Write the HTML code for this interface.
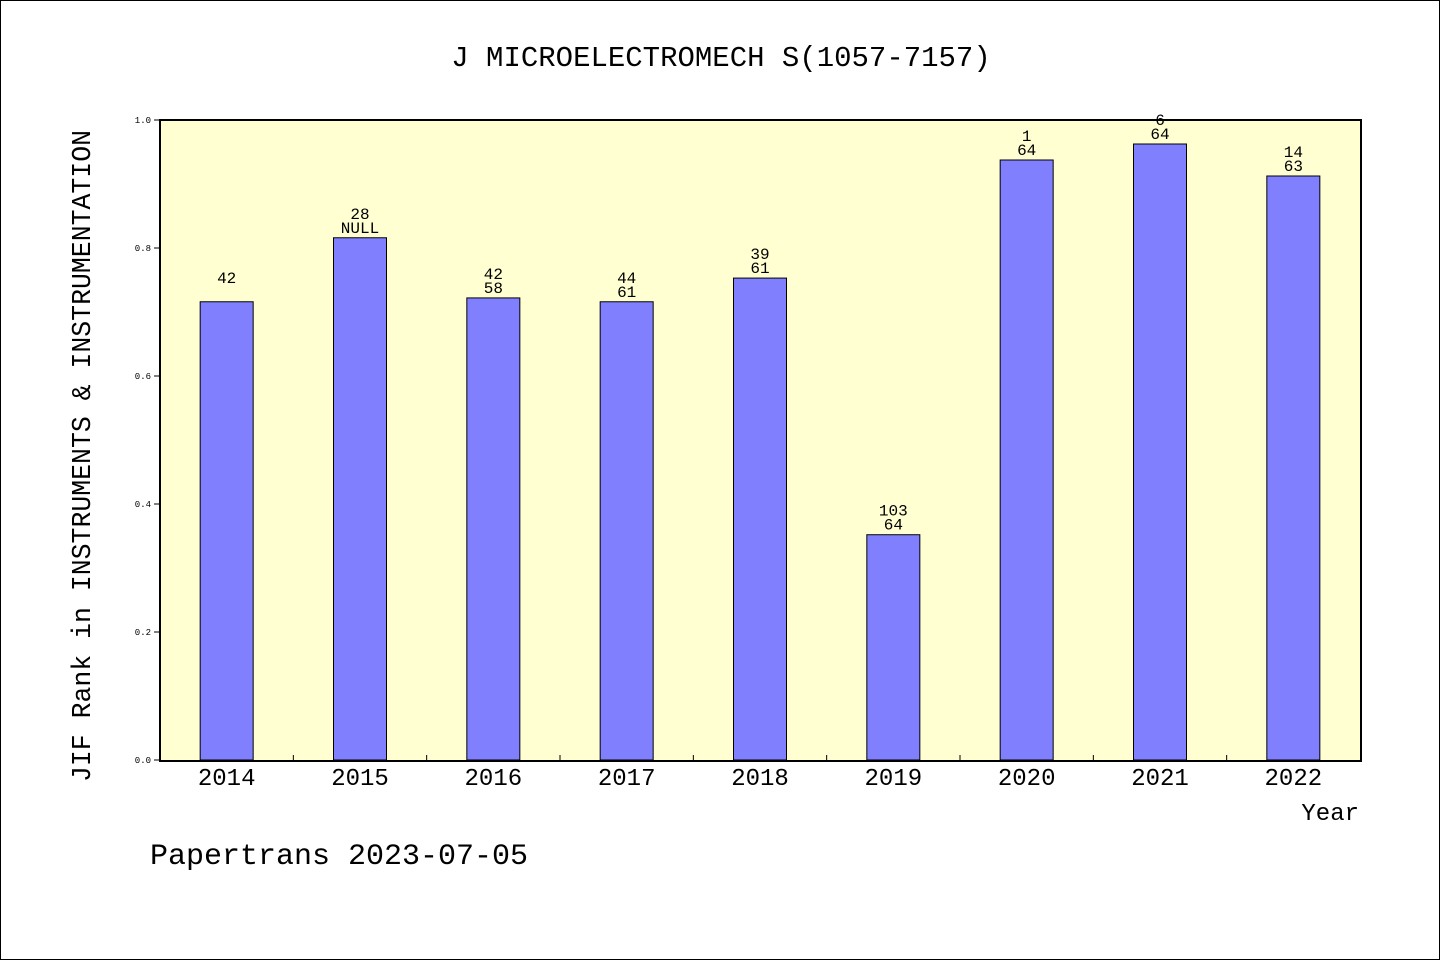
<!DOCTYPE html>
<html><head><meta charset="utf-8"><style>
body{margin:0;background:#fff}
svg{display:block}
text{font-family:"Liberation Mono","DejaVu Sans Mono",monospace;fill:#000}
</style></head><body>
<svg id="chart" width="1440" height="960" xmlns="http://www.w3.org/2000/svg">
<rect x="0.5" y="0.5" width="1439" height="959" fill="#fff" stroke="#000"/>
<text x="721" y="66" font-size="29" text-anchor="middle">J MICROELECTROMECH S(1057-7157)</text>
<rect x="160" y="120" width="1201" height="641" fill="#ffffd2"/>
<g id="bars"></g>
<g id="axes"></g>
<rect x="160" y="120" width="1201" height="641" fill="none" stroke="#000" stroke-width="2"/>
<text transform="translate(90,456) rotate(-90)" font-size="26.5" text-anchor="middle">JIF Rank in INSTRUMENTS &amp; INSTRUMENTATION</text>
<text x="1359" y="820" font-size="24" text-anchor="end">Year</text>
<text x="150" y="864" font-size="30">Papertrans 2023-07-05</text>
</svg>
<script>
const categories=["2014","2015","2016","2017","2018","2019","2020","2021","2022"];
const values=[0.716,0.816,0.722,0.716,0.753,0.352,0.9375,0.9625,0.9125];
const rankLabels=["42","28","42","44","39","103","1","6","14"];
const totalLabels=["","NULL","58","61","61","64","64","64","63"];
const yTicks=[0,0.2,0.4,0.6,0.8,1.0];
const NS="http://www.w3.org/2000/svg";
const X0=160,W=1200,Y0=760,H=640;
const band=W/categories.length;
const xc=i=>X0+band*(i+0.5);
const y=v=>Y0-v*H;
const bars=document.getElementById('bars'),axes=document.getElementById('axes');
function mk(tag,attrs,parent){const e=document.createElementNS(NS,tag);for(const k in attrs)e.setAttribute(k,attrs[k]);parent.appendChild(e);return e;}
categories.forEach((c,i)=>{
  const r=mk('rect',{x:xc(i)-26.5,y:y(values[i]),width:53,height:Y0-y(values[i]),fill:'#8080ff',stroke:'#000','stroke-width':1},bars);
  
  
  const t1=mk('text',{x:xc(i),y:y(values[i])-19,'font-size':16,'text-anchor':'middle'},bars);
  t1.textContent=rankLabels[i];
  
  
  const t2=mk('text',{x:xc(i),y:y(values[i])-5,'font-size':16,'text-anchor':'middle'},bars);
  t2.textContent=totalLabels[i];
  
  
  const xl=mk('text',{x:xc(i),y:785,'font-size':24,'text-anchor':'middle'},axes);
  xl.textContent=c;
  
  
  if(i>0){const tk=mk('line',{x1:X0+band*i,x2:X0+band*i,y1:Y0,y2:Y0-5,stroke:'#000'},axes);
  
  }
});
yTicks.forEach(v=>{
  const tk=mk('line',{x1:X0-6,x2:X0,y1:y(v),y2:y(v),stroke:'#000'},axes);
  
  
  const tl=mk('text',{x:X0-9,y:y(v)+3,'font-size':9,'text-anchor':'end'},axes);
  tl.textContent=v.toFixed(1);
  
  
});
</script>
</body></html>
